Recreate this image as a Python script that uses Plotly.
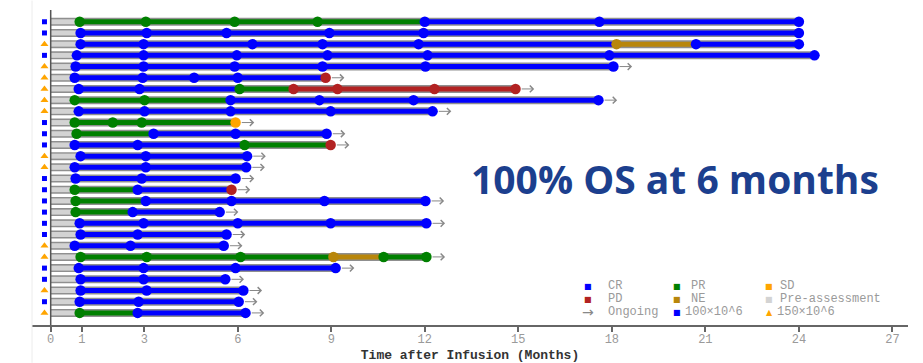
import plotly.graph_objects as go

# Assessment times (months after infusion) and response at each assessment, one list per patient
assess_times = [
    [0.93, 3.05, 5.9, 8.56, 12.0, 17.6, 24.0],
    [0.96, 3.08, 5.64, 8.94, 11.96, 24.0],
    [0.96, 2.98, 6.47, 8.72, 11.8, 18.15, 20.7, 24.0],
    [0.84, 2.98, 5.97, 8.88, 12.09, 17.92, 24.5],
    [0.8, 2.98, 5.9, 8.72, 12.02, 18.05],
    [0.77, 2.95, 4.6, 6.0, 8.82],
    [0.9, 2.85, 6.06, 7.79, 9.2, 12.31, 14.91],
    [0.77, 3.01, 5.77, 8.62, 11.64, 17.57],
    [0.9, 3.01, 5.77, 8.98, 12.25],
    [0.77, 1.99, 2.92, 5.93],
    [0.83, 3.3, 5.93, 8.85],
    [0.77, 2.79, 6.22, 8.98],
    [0.96, 3.05, 6.3],
    [0.77, 3.05, 6.27],
    [0.8, 2.92, 5.93],
    [0.77, 2.79, 5.8],
    [0.8, 3.05, 5.8, 8.78, 12.02],
    [0.8, 2.63, 5.42],
    [0.93, 2.98, 6.0, 8.98, 12.05],
    [0.96, 2.79, 5.64],
    [0.77, 2.56, 5.55],
    [0.96, 3.08, 6.09, 9.07, 10.68, 12.05],
    [0.9, 2.98, 5.93, 9.14],
    [0.96, 2.98, 5.6],
    [0.96, 3.08, 6.18],
    [0.93, 2.82, 6.03],
    [0.93, 2.79, 6.25],
]
assess_resp = [
    ["PR", "PR", "PR", "PR", "CR", "CR", "CR"],
    ["CR", "CR", "CR", "CR", "CR", "CR"],
    ["CR", "CR", "CR", "CR", "CR", "NE", "CR", "CR"],
    ["CR", "CR", "CR", "CR", "CR", "CR", "CR"],
    ["CR", "CR", "CR", "CR", "CR", "CR"],
    ["CR", "CR", "CR", "CR", "PD"],
    ["CR", "CR", "PR", "PD", "PD", "PD", "PD"],
    ["PR", "PR", "CR", "CR", "CR", "CR"],
    ["CR", "CR", "CR", "CR", "CR"],
    ["PR", "PR", "PR", "SD"],
    ["PR", "CR", "CR", "CR"],
    ["CR", "CR", "PR", "PD"],
    ["CR", "CR", "CR"],
    ["CR", "CR", "CR"],
    ["CR", "CR", "CR"],
    ["PR", "CR", "PD"],
    ["PR", "CR", "CR", "CR", "CR"],
    ["PR", "CR", "CR"],
    ["CR", "CR", "CR", "CR", "CR"],
    ["CR", "CR", "CR"],
    ["CR", "CR", "CR"],
    ["PR", "PR", "PR", "NE", "PR", "PR"],
    ["CR", "CR", "CR", "CR"],
    ["CR", "CR", "CR"],
    ["CR", "CR", "CR"],
    ["CR", "CR", "CR"],
    ["PR", "CR", "CR"],
]
ongoing = [False, False, False, False] + [True] * 23
dose = [100, 100, 150, 100, 150, 150, 150, 150, 150, 100, 100, 100, 150, 150,
        100, 100, 100, 100, 100, 100, 150, 150, 100, 100, 150, 100, 150]

x_ticks = [0, 1, 3, 6, 9, 12, 15, 18, 21, 24, 27]

resp_colors = {"CR": "#0000FF", "PR": "#008000", "SD": "#FFA500",
               "PD": "#B22222", "NE": "#B8860B", "Pre": "#D3D3D3"}
outline = "#8f8f8f"
muted = "#9a9a9a"
mono = "Liberation Mono, Courier New, monospace"

rows = list(range(1, len(assess_times) + 1))

fig = go.Figure()

# Outline under every swimmer bar
ox, oy = [], []
for r, t in zip(rows, assess_times):
    ox += [0, t[-1], None]
    oy += [r, r, None]
fig.add_trace(go.Scatter(x=ox, y=oy, mode="lines", hoverinfo="skip",
                         line=dict(color=outline, width=8), showlegend=False))

# Coloured segments: pre-assessment, then the response held from each assessment to the next
seg = {k: ([], []) for k in resp_colors}
for r, t, s in zip(rows, assess_times, assess_resp):
    seg["Pre"][0].extend([0, t[0], None])
    seg["Pre"][1].extend([r, r, None])
    for i in range(len(t) - 1):
        seg[s[i]][0].extend([t[i], t[i + 1], None])
        seg[s[i]][1].extend([r, r, None])
for k, (sx, sy) in seg.items():
    if sx:
        fig.add_trace(go.Scatter(x=sx, y=sy, mode="lines", hoverinfo="skip",
                                 line=dict(color=resp_colors[k], width=5), showlegend=False))

# Assessment dots
for k in ["CR", "PR", "SD", "PD", "NE"]:
    dx, dy = [], []
    for r, t, s in zip(rows, assess_times, assess_resp):
        for ti, si in zip(t, s):
            if si == k:
                dx.append(ti)
                dy.append(r)
    fig.add_trace(go.Scatter(x=dx, y=dy, mode="markers", name=k, showlegend=False,
                             marker=dict(color=resp_colors[k], size=10.5, symbol="circle",
                                         line=dict(width=0))))

# Dose markers at the start of each row
dose_x = -0.2
for d, sym, col, sz in [(100, "square", "#0000FF", 5), (150, "triangle-up", "#FFA500", 7)]:
    ry = [r for r, v in zip(rows, dose) if v == d]
    fig.add_trace(go.Scatter(x=[dose_x] * len(ry), y=ry, mode="markers", showlegend=False,
                             marker=dict(symbol=sym, color=col, size=sz, line=dict(width=0))))

# Ongoing arrows
annotations = []
for r, t, g in zip(rows, assess_times, ongoing):
    if g:
        annotations.append(dict(x=t[-1] + 0.6, y=r, ax=t[-1] + 0.15, ay=r,
                                xref="x", yref="y", axref="x", ayref="y", text="",
                                showarrow=True, arrowhead=4, arrowsize=1.3,
                                arrowwidth=1, arrowcolor="#888888", standoff=0, startstandoff=0))

# Legend drawn as text
def px_x(px):
    return (px - 32) / 876

def px_y(py):
    return (325 - py) / 315

legend_items = [
    (588, 607, 286, "■", resp_colors["CR"], "CR"),
    (677, 690, 286, "■", resp_colors["PR"], "PR"),
    (769, 779, 286, "■", resp_colors["SD"], "SD"),
    (588, 607, 299, "■", resp_colors["PD"], "PD"),
    (677, 690, 299, "■", resp_colors["NE"], "NE"),
    (769, 779, 299, "■", resp_colors["Pre"], "Pre-assessment"),
    (588, 607, 312, "→", "#888888", "Ongoing"),
    (677, 684, 312, "■", "#0000FF", "100×10^6"),
    (769, 776, 312, "▲", "#FFA500", "150×10^6"),
]
for mx, tx, py, sym, col, label in legend_items:
    big = sym == "→"
    annotations.append(dict(x=px_x(mx), y=px_y(py), xref="paper", yref="paper",
                            text=sym, showarrow=False, xanchor="center", yanchor="middle",
                            borderpad=0,
                            font=dict(family="DejaVu Sans", size=14 if big else 8, color=col)))
    annotations.append(dict(x=px_x(tx), y=px_y(py), xref="paper", yref="paper",
                            text=label, showarrow=False, xanchor="left", yanchor="middle",
                            borderpad=0,
                            font=dict(family=mono, size=12, color=muted)))

annotations.append(dict(x=px_x(675), y=px_y(178), xref="paper", yref="paper",
                        text="<b>100% OS at 6 months</b>", showarrow=False,
                        xanchor="center", yanchor="middle",
                        font=dict(family="Open Sans", size=39, color="#1c3f8e")))

shapes = [
    # vertical reference line at infusion
    dict(type="line", xref="x", yref="paper", x0=0, x1=0, y0=0, y1=1,
         line=dict(color="#555555", width=1.5)),
    # faint panel edge
    dict(type="line", xref="paper", yref="paper", x0=0, x1=0, y0=-0.12, y1=1.03,
         line=dict(color="#ececec", width=1)),
]

fig.update_layout(
    width=923, height=363,
    margin=dict(l=32, r=15, t=10, b=38, autoexpand=False),
    paper_bgcolor="white", plot_bgcolor="white",
    showlegend=False,
    annotations=annotations,
    shapes=shapes,
    xaxis=dict(range=[-0.6, 27.5], tickmode="array", tickvals=x_ticks,
               ticktext=[str(v) for v in x_ticks], automargin=False,
               showgrid=False, zeroline=False, showline=True, linecolor="#666666", linewidth=1.5,
               ticks="outside", ticklen=5, tickcolor="#666666", tickwidth=1.5,
               ticklabelstandoff=-3,
               tickfont=dict(family=mono, size=12, color=muted),
               title=dict(text="<b>Time after Infusion (Months)</b>", standoff=7,
                          font=dict(family=mono, size=13, color="#333333"))),
    yaxis=dict(range=[28.08, -0.05], showgrid=False, zeroline=False, showline=False,
               showticklabels=False, ticks="", automargin=False),
)

fig.write_html("out.html")
